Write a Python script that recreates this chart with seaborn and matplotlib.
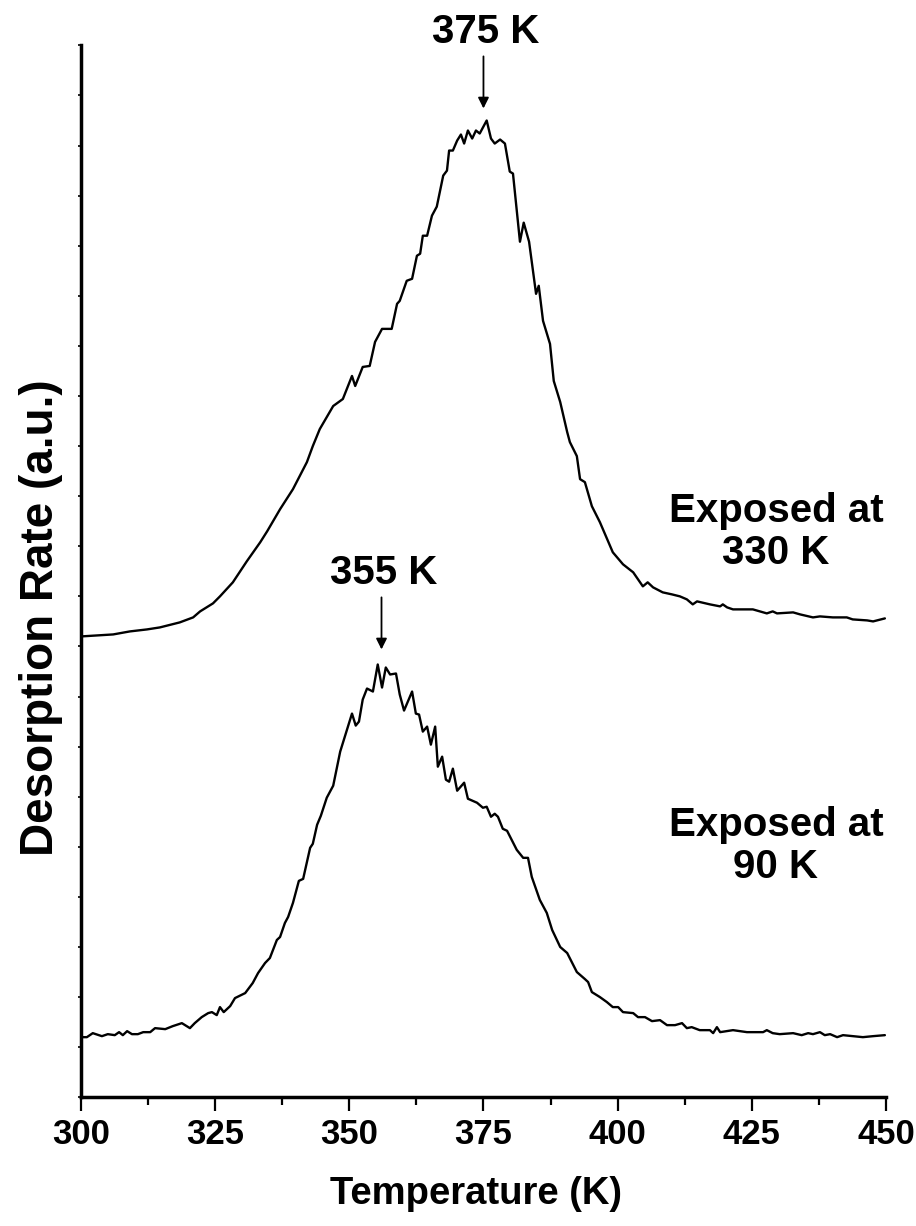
import numpy as np
import pandas as pd
import matplotlib
matplotlib.use('Agg')
import matplotlib.pyplot as plt
import seaborn as sns

# ---------------- Data ---------------- #

# Exposed at 330 K
temp_330 = [300.0, 306.0, 309.1, 312.3, 314.7, 318.4, 320.9, 322.2, 324.6, 325.9,
            328.3, 330.9, 333.4, 334.7, 337.1, 339.5, 342.1, 343.2, 344.5, 347.0,
            348.8, 350.5, 351.1, 352.5, 353.8, 354.8, 356.1, 357.9, 358.9, 359.4,
            360.7, 361.7, 362.6, 363.2, 363.7, 364.5, 365.4, 366.3, 367.5, 368.2,
            368.6, 369.3, 370.1, 370.8, 371.4, 372.1, 372.9, 373.6, 374.3, 375.6,
            376.4, 377.1, 378.1, 379.0, 379.9, 380.5, 381.8, 382.5, 383.5, 384.8,
            385.3, 386.1, 387.4, 388.1, 389.3, 390.6, 391.1, 392.4, 393.0, 393.9,
            395.2, 396.7, 399.1, 401.0, 402.9, 404.7, 405.6, 406.6, 408.4, 410.1,
            411.6, 412.9, 414.0, 414.8, 417.2, 419.1, 419.6, 420.4, 421.5, 425.2,
            426.5, 427.8, 428.9, 429.7, 432.7, 434.0, 436.4, 437.7, 440.1, 442.7,
            443.8, 446.5, 447.6, 449.8]
rate_330 = [9.20, 9.24, 9.30, 9.34, 9.38, 9.48, 9.58, 9.70, 9.86, 10.00,
            10.28, 10.70, 11.08, 11.30, 11.74, 12.14, 12.68, 13.00, 13.34, 13.80,
            13.94, 14.40, 14.20, 14.58, 14.60, 15.08, 15.34, 15.34, 15.84, 15.90,
            16.30, 16.34, 16.80, 16.84, 17.20, 17.20, 17.60, 17.78, 18.40, 18.50,
            18.90, 18.90, 19.10, 19.22, 19.04, 19.30, 19.14, 19.30, 19.24, 19.50,
            19.14, 19.04, 19.12, 19.04, 18.48, 18.44, 17.08, 17.46, 17.08, 16.04,
            16.20, 15.50, 15.04, 14.30, 13.88, 13.28, 13.08, 12.80, 12.34, 12.28,
            11.80, 11.48, 10.88, 10.64, 10.48, 10.20, 10.28, 10.18, 10.08, 10.04,
            10.00, 9.94, 9.84, 9.90, 9.84, 9.80, 9.84, 9.78, 9.74, 9.74,
            9.70, 9.66, 9.70, 9.66, 9.68, 9.64, 9.58, 9.60, 9.58, 9.58,
            9.54, 9.52, 9.50, 9.56]

# Exposed at 90 K
temp_90 = [300.0, 301.1, 302.2, 303.9, 305.0, 306.3, 307.1, 307.8, 308.6, 309.5,
           310.6, 311.6, 312.9, 313.8, 315.7, 317.1, 318.8, 320.3, 321.2, 322.5,
           323.7, 324.4, 325.3, 325.9, 326.6, 327.8, 328.7, 330.6, 332.0, 333.0,
           334.3, 335.2, 336.5, 337.1, 338.0, 338.6, 339.5, 340.6, 341.4, 342.7,
           343.2, 344.0, 344.7, 345.8, 347.0, 348.3, 349.7, 350.5, 351.2, 351.8,
           352.5, 353.3, 354.4, 355.3, 356.1, 356.8, 357.6, 358.7, 359.4, 360.2,
           361.7, 362.4, 363.0, 363.7, 364.5, 365.2, 366.0, 366.5, 367.3, 368.0,
           368.6, 369.3, 370.1, 371.4, 372.1, 373.8, 374.9, 375.6, 376.4, 377.1,
           377.7, 378.6, 379.4, 381.2, 382.4, 383.3, 384.0, 385.5, 386.8, 387.8,
           389.3, 390.6, 392.4, 393.9, 394.5, 395.2, 396.7, 398.0, 399.1, 400.1,
           401.0, 402.9, 403.8, 405.1, 406.4, 407.9, 409.2, 410.7, 412.0, 412.9,
           413.8, 415.3, 417.2, 417.8, 418.5, 419.1, 421.5, 424.1, 427.1, 427.8,
           428.9, 430.2, 432.7, 434.3, 435.5, 436.4, 437.7, 438.6, 439.6, 440.9,
           442.0, 443.8, 445.7, 447.6, 449.8]
rate_90 = [1.20, 1.20, 1.28, 1.22, 1.26, 1.24, 1.30, 1.24, 1.32, 1.26,
           1.26, 1.30, 1.30, 1.38, 1.36, 1.42, 1.48, 1.38, 1.48, 1.60,
           1.68, 1.70, 1.64, 1.80, 1.70, 1.82, 1.98, 2.08, 2.28, 2.48,
           2.68, 2.78, 3.14, 3.20, 3.48, 3.60, 3.88, 4.32, 4.36, 4.98,
           5.06, 5.44, 5.62, 5.98, 6.22, 6.90, 7.38, 7.66, 7.42, 7.50,
           7.94, 8.16, 8.10, 8.64, 8.18, 8.58, 8.44, 8.46, 8.04, 7.72,
           8.10, 7.66, 7.64, 7.30, 7.40, 7.04, 7.40, 6.60, 6.80, 6.34,
           6.30, 6.56, 6.12, 6.28, 5.96, 5.88, 5.78, 5.80, 5.60, 5.66,
           5.60, 5.36, 5.32, 4.94, 4.78, 4.78, 4.40, 3.94, 3.68, 3.34,
           3.00, 2.88, 2.50, 2.36, 2.30, 2.10, 2.00, 1.90, 1.80, 1.80,
           1.70, 1.68, 1.60, 1.60, 1.52, 1.54, 1.44, 1.44, 1.48, 1.38,
           1.40, 1.34, 1.34, 1.28, 1.40, 1.30, 1.34, 1.30, 1.30, 1.34,
           1.28, 1.26, 1.28, 1.24, 1.28, 1.26, 1.30, 1.24, 1.26, 1.20,
           1.24, 1.22, 1.20, 1.22, 1.24]

peak_labels = ['375 K', '355 K']
peak_temps = [375, 356]
peak_heads = [19.74, 8.94]
curve_labels = ['Exposed at\n330 K', 'Exposed at\n90 K']
curve_label_y = [11.28, 5.02]

# ---------------- Plot ---------------- #

sns.set_style('ticks')
plt.rcParams['font.family'] = ['Liberation Sans', 'DejaVu Sans']
plt.rcParams['font.weight'] = 'bold'
plt.rcParams['text.color'] = 'black'
plt.rcParams['axes.labelcolor'] = 'black'
plt.rcParams['xtick.color'] = 'black'
plt.rcParams['ytick.color'] = 'black'
plt.rcParams['axes.edgecolor'] = 'black'

fig = plt.figure(figsize=(9.16, 12.26), dpi=100)
ax = fig.add_axes([0.0884, 0.105, 0.8788, 0.858])

df_330 = pd.DataFrame({'T': temp_330, 'rate': rate_330})
df_90 = pd.DataFrame({'T': temp_90, 'rate': rate_90})
sns.lineplot(data=df_330, x='T', y='rate', ax=ax, color='black', lw=1.7)
sns.lineplot(data=df_90, x='T', y='rate', ax=ax, color='black', lw=1.7)

ax.set_xlim(300, 450)
ax.set_ylim(0, 21)
ax.set_xticks(np.arange(300, 451, 25))
ax.set_xticks(np.arange(312.5, 450, 25), minor=True)
ax.set_yticks(np.arange(0, 22, 1))
ax.set_yticklabels([])
ax.tick_params(axis='x', which='major', length=10, width=1.6, labelsize=25, pad=5)
ax.tick_params(axis='x', which='minor', length=6, width=1.6)
ax.tick_params(axis='y', length=2, width=1.2)

for lbl in ax.get_xticklabels():
    lbl.set_fontweight('bold')

for side in ['top', 'right']:
    ax.spines[side].set_visible(False)
for side in ['left', 'bottom']:
    ax.spines[side].set_linewidth(2.5)

ax.set_xlabel('Temperature (K)', fontsize=27.5, fontweight='bold', labelpad=20)
ax.set_ylabel('Desorption Rate (a.u.)', fontsize=33, fontweight='bold')
ax.yaxis.set_label_coords(-0.022, 0.456)
ax.xaxis.set_label_coords(0.491, -0.075)

# peak markers
for lbl, t, yh in zip(peak_labels, peak_temps, peak_heads):
    ax.annotate('', xy=(t, yh), xytext=(t, yh + 1.04),
                arrowprops=dict(arrowstyle='-|>', color='black', lw=1.3,
                                mutation_scale=16, shrinkA=0, shrinkB=0),
                annotation_clip=False)
    ax.text(t + 0.5, yh + 1.52, lbl, ha='center', va='center', fontsize=29,
            fontweight='bold', clip_on=False)

for lbl, y in zip(curve_labels, curve_label_y):
    ax.text(429.5, y, lbl, ha='center', va='center', fontsize=29,
            fontweight='bold', linespacing=1.15)

fig.savefig('out.png', dpi=100)
